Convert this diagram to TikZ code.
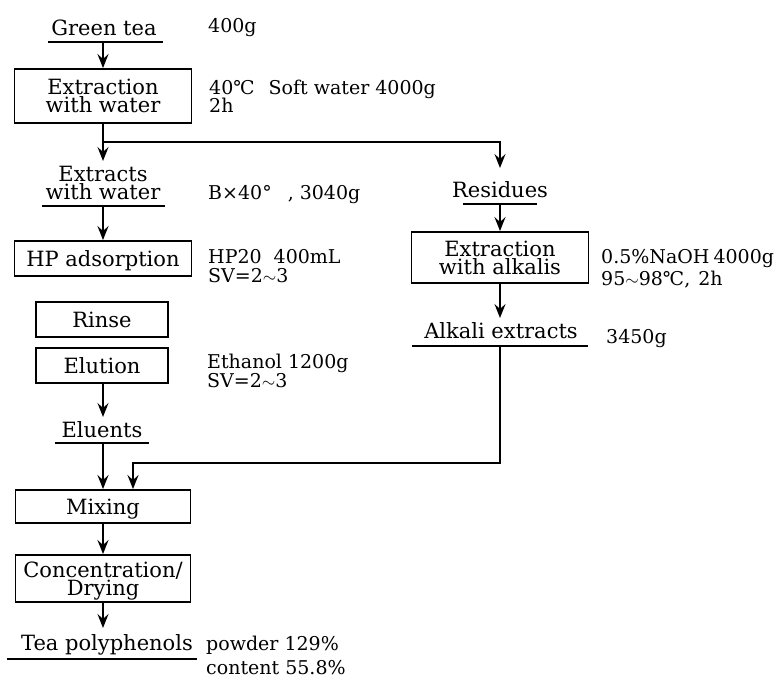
\documentclass[tikz,border=0pt]{standalone}
\usepackage{fontspec}
\setmainfont{DejaVu Serif}
\usetikzlibrary{arrows.meta}
\lineskiplimit=-30pt
\begin{document}
\begin{tikzpicture}[x=1pt,y=-1pt,
  mainf/.style={font=\fontsize{21}{18}\selectfont, inner sep=0pt, align=center},
  procbox/.style={mainf, draw, line width=1.9pt, text depth=0pt},
  lbl/.style={mainf},
  note/.style={font=\fontsize{19}{19}\selectfont, inner sep=0pt, anchor=base west},
  uline/.style={line width=1.8pt},
  conn/.style={line width=1.8pt},
  arr/.style={line width=1.8pt, -{Stealth[length=14pt,width=11pt,inset=5pt]}}]
\useasboundingbox (0,0) rectangle (774,677);

% left column
\node[lbl, anchor=base] (gt) at (104,36) {Green tea};
\draw[uline] (48,42) -- (163,42);
\coordinate (gtu) at (103,42);
\node[note] (n1) at (208,33) {400g};

\node[procbox, minimum width=177pt, minimum height=54pt] (ext) at (103,96) {Extraction\\with water};
\node[note] (n2a) at (209,95) {40℃\hspace{14pt}Soft water 4000g};
\node[note] (n2b) at (209,113) {2h};

\coordinate (brk) at (103,142);
\node[lbl] (ew) at (103,182.5) {Extracts\\with water};
\draw[uline] (42,206) -- (165,206);
\coordinate (ewtop) at (103,161);
\coordinate (ewu) at (103,206);
\node[note] (n3) at (208,199) {B×40°\hspace{16pt}, 3040g};

\node[procbox, minimum width=177pt, minimum height=35pt] (hp) at (103,258.5) {HP adsorption};
\node[note] (n4a) at (208,263) {HP20\hspace{12pt}400mL};
\node[note] (n4b) at (208,282) {SV=2$\sim$3};

\node[procbox, minimum width=132pt, minimum height=35pt] (rin) at (102,319.5) {Rinse};
\node[procbox, minimum width=132pt, minimum height=35pt] (elu) at (102,365.5) {Elution};
\node[note] (n6a) at (207,368) {Ethanol 1200g};
\node[note] (n6b) at (207,387) {SV=2$\sim$3};

\node[lbl, anchor=base] (eln) at (102,437) {Eluents};
\draw[uline] (55,443) -- (149,443);
\coordinate (elntop) at (103,417);
\coordinate (elnu) at (103,443);

\node[procbox, minimum width=175pt, minimum height=33pt] (mix) at (103,506.5) {Mixing};
\node[procbox, minimum width=175pt, minimum height=47pt] (conc) at (103,578.5) {Concentration/\\Drying};

\node[lbl, anchor=base] (tea) at (107,650) {Tea polyphenols};
\draw[uline] (7,659) -- (197,659);
\coordinate (teatop) at (103,628);
\node[note] (n8a) at (206,650) {powder 129\%};
\node[note] (n8b) at (206,674) {content 55.8\%};

% right column
\node[lbl, anchor=base] (res) at (500,197) {Residues};
\draw[uline] (463,204) -- (537,204);
\coordinate (restop) at (500,168);
\coordinate (resu) at (500,204);

\node[procbox, minimum width=177pt, minimum height=51pt] (alk) at (500,257.5) {Extraction\\with alkalis};
\node[note] (n5a) at (601,263) {0.5\%NaOH\hspace{4pt}4000g};
\node[note] (n5b) at (601,285) {95$\sim$98℃,\hspace{8pt}2h};

\node[lbl, anchor=base] (alx) at (501,338) {Alkali extracts};
\draw[uline] (412,346) -- (588,346);
\coordinate (alxtop) at (500,318);
\coordinate (alxu) at (500,346);
\node[note] (n7) at (606,343) {3450g};

\coordinate (jn) at (133,463);

% connectors
\draw[arr] (gtu) -- (ext.north);
\draw[conn] (ext.south) -- (brk);
\draw[arr] (brk) -- (ewtop);
\draw[arr] (brk) -| (restop);
\draw[arr] (ewu) -- (hp.north);
\draw[arr] (resu) -- (alk.north);
\draw[arr] (alk.south) -- (alxtop);
\draw[arr] (elu.south -| elntop) -- (elntop);
\draw[arr] (elnu) -- (mix.north);
\draw[arr] (alxu) |- (jn) -- (jn |- mix.north);
\draw[arr] (mix.south) -- (conc.north);
\draw[arr] (conc.south) -- (teatop);
\end{tikzpicture}
\end{document}
